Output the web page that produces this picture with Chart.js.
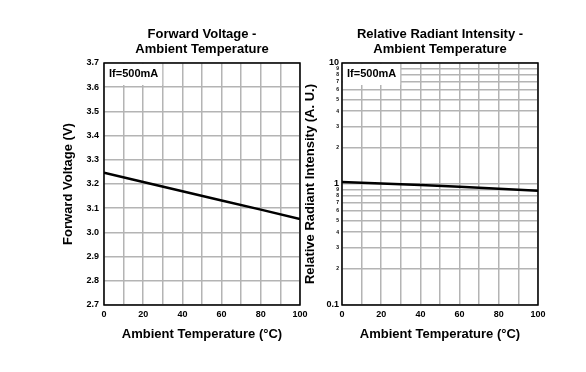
<!DOCTYPE html>
<html lang="en">
<head>
  <meta charset="UTF-8">
  <title>Forward Voltage / Radiant Intensity - Ambient Temperature</title>
  <script src="https://cdn.jsdelivr.net/npm/chart.js"></script>
  <style>
    body { margin: 0; background: #fff; }
    #wrap { position: relative; width: 586px; height: 372px; }
    canvas { position: absolute; left: 0; top: 0; }
  </style>
</head>
<body>
  <div id="wrap">
    <canvas id="vfChart" width="586" height="372"></canvas>
    <canvas id="ieChart" width="586" height="372"></canvas>
  </div>

  <script>
    // data
    const temps = [0, 20, 40, 60, 80, 100];
    const forwardVoltage = [3.247, 3.208, 3.170, 3.132, 3.094, 3.055];
    const relIntensity = [1.04, 1.01, 0.98, 0.95, 0.915, 0.88];

    // log axis tick positions (two decades)
    const logTicks = [0.1, 0.2, 0.3, 0.4, 0.5, 0.6, 0.7, 0.8, 0.9,
                      1, 2, 3, 4, 5, 6, 7, 8, 9, 10];

    const vfTitle = ['Forward Voltage -', 'Ambient Temperature'];
    const ieTitle = ['Relative Radiant Intensity -', 'Ambient Temperature'];
    const xTitle = 'Ambient Temperature (\u00B0C)';
    const vfYTitle = 'Forward Voltage (V)';
    const ieYTitle = 'Relative Radiant Intensity (A. U.)';
    const note = 'If=500mA';

    const FONT = "'Liberation Sans', Arial, sans-serif";
    const GRID = '#b4b4b4';

    // chart title, the If note and the black frame
    const decor = {
      id: 'decor',
      beforeDatasetsDraw(chart, args, opts) {
        const { ctx, chartArea: a } = chart;
        ctx.save();
        ctx.font = 'bold 11px ' + FONT;
        const w = ctx.measureText(opts.note).width;
        ctx.fillStyle = '#fff';
        ctx.fillRect(a.left + 1, a.top + 1, w + 8, 21);
        ctx.fillStyle = '#000';
        ctx.textBaseline = 'middle';
        ctx.fillText(opts.note, a.left + 5, a.top + 11);
        ctx.restore();
      },
      afterDraw(chart, args, opts) {
        const { ctx, chartArea: a } = chart;
        ctx.save();
        ctx.strokeStyle = '#000';
        ctx.lineWidth = 1.5;
        ctx.strokeRect(a.left, a.top, a.right - a.left, a.bottom - a.top);
        ctx.fillStyle = '#000';
        ctx.font = 'bold 13px ' + FONT;
        ctx.textAlign = 'center';
        ctx.textBaseline = 'middle';
        const cx = (a.left + a.right) / 2;
        opts.title.forEach((t, i) => ctx.fillText(t, cx, 34 + i * 15));
        ctx.restore();
      }
    };

    function xScale() {
      return {
        type: 'linear',
        min: 0,
        max: 100,
        afterFit: s => { s.height = 67; },
        grid: { color: GRID, lineWidth: 1.5, drawTicks: false },
        border: { display: false },
        ticks: {
          stepSize: 10,
          padding: 4,
          color: '#000',
          font: { family: FONT, size: 9, weight: 'bold' },
          maxRotation: 0,
          autoSkip: false,
          callback: v => (v % 20 === 0 ? String(v) : '')
        },
        title: {
          display: true,
          text: xTitle,
          color: '#000',
          font: { family: FONT, size: 13, weight: 'bold' },
          padding: { top: 0, bottom: 30 }
        }
      };
    }

    new Chart(document.getElementById('vfChart'), {
      type: 'line',
      data: {
        datasets: [{
          data: temps.map((t, i) => ({ x: t, y: forwardVoltage[i] })),
          borderColor: '#000',
          borderWidth: 2.5,
          pointRadius: 0,
          tension: 0
        }]
      },
      options: {
        responsive: false,
        animation: false,
        layout: { padding: { top: 63, right: 286, bottom: 0, left: 0 } },
        plugins: {
          legend: { display: false },
          tooltip: { enabled: false },
          decor: { title: vfTitle, note: note }
        },
        scales: {
          x: xScale(),
          y: {
            min: 2.7,
            max: 3.7,
            afterFit: s => { s.width = 104; },
            grid: { color: GRID, lineWidth: 1.5, drawTicks: false },
            border: { display: false },
            ticks: {
              stepSize: 0.1,
              padding: 5,
              color: '#000',
              font: { family: FONT, size: 9, weight: 'bold' },
              callback: v => Number(v).toFixed(1)
            },
            title: {
              display: true,
              text: vfYTitle,
              color: '#000',
              font: { family: FONT, size: 13, weight: 'bold' },
              padding: { top: 61, bottom: 0 }
            }
          }
        }
      },
      plugins: [decor]
    });

    const isDecade = v => Math.abs(Math.log10(v) - Math.round(Math.log10(v))) < 1e-6;

    new Chart(document.getElementById('ieChart'), {
      type: 'line',
      data: {
        datasets: [{
          data: temps.map((t, i) => ({ x: t, y: relIntensity[i] })),
          borderColor: '#000',
          borderWidth: 2.5,
          pointRadius: 0,
          tension: 0
        }]
      },
      options: {
        responsive: false,
        animation: false,
        layout: { padding: { top: 63, right: 48, bottom: 0, left: 290 } },
        plugins: {
          legend: { display: false },
          tooltip: { enabled: false },
          decor: { title: ieTitle, note: note }
        },
        scales: {
          x: xScale(),
          y: {
            type: 'logarithmic',
            min: 0.1,
            max: 10,
            afterBuildTicks: s => { s.ticks = logTicks.map(v => ({ value: v })); },
            afterFit: s => { s.width = 52; },
            grid: { color: GRID, lineWidth: 1.5, drawTicks: false },
            border: { display: false },
            ticks: {
              padding: 3,
              autoSkip: false,
              color: '#000',
              font: ctx => {
                const v = ctx.tick ? ctx.tick.value : 1;
                return isDecade(v)
                  ? { family: FONT, size: 9, weight: 'bold' }
                  : { family: FONT, size: 5, weight: 'bold' };
              },
              callback: v => {
                if (isDecade(v)) return String(Number(v.toPrecision(3)));
                const d = Math.pow(10, Math.floor(Math.log10(v) + 1e-9));
                return String(Math.round(v / d));
              }
            },
            title: {
              display: true,
              text: ieYTitle,
              color: '#000',
              font: { family: FONT, size: 13, weight: 'bold' },
              padding: { top: 13, bottom: 0 }
            }
          }
        }
      },
      plugins: [decor]
    });
  </script>
</body>
</html>
